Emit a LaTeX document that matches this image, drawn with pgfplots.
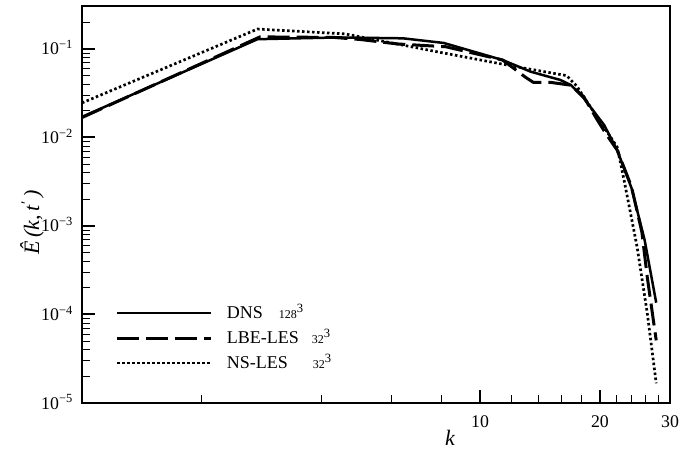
\documentclass[border=0pt]{standalone}
\usepackage{fontspec}
\setmainfont{Liberation Serif}
\usepackage{pgfplots}
\pgfplotsset{compat=1.18}
\begin{document}
\begin{tikzpicture}
\useasboundingbox (-82pt,-51pt) rectangle (602pt,403pt);
\begin{axis}[
 at={(0pt,0pt)}, anchor=south west,
 scale only axis, width=588pt, height=397pt,
 xmode=log, ymode=log,
 xmin=1, xmax=30, ymin=1e-5, ymax=0.306,
 xtick={10,20,30}, xticklabels={10,20,30},
 minor xtick={2,4,6,8,12,14,16,18,22,24,26,28},
 ytick={1e-5,1e-4,1e-3,1e-2,1e-1},
 yticklabels={10\textsuperscript{−5},10\textsuperscript{−4},10\textsuperscript{−3},10\textsuperscript{−2},10\textsuperscript{−1}},
 minor ytick={2e-5,3e-5,4e-5,5e-5,6e-5,7e-5,8e-5,9e-5,
   2e-4,3e-4,4e-4,5e-4,6e-4,7e-4,8e-4,9e-4,
   2e-3,3e-3,4e-3,5e-3,6e-3,7e-3,8e-3,9e-3,
   2e-2,3e-2,4e-2,5e-2,6e-2,7e-2,8e-2,9e-2,2e-1},
 xtick pos=bottom, ytick pos=left,
 tick align=inside,
 major tick length=13.5pt, minor tick length=8pt,
 every major tick/.append style={line width=2pt, black},
 every minor tick/.append style={line width=1pt, black},
 axis line style={line width=2.8pt, line cap=rect},
 tick label style={font=\fontsize{17.8}{20}\selectfont},
 xticklabel style={anchor=north, inner sep=0pt, yshift=-12pt},
 yticklabel style={anchor=base east, inner sep=0pt, xshift=-9pt, yshift=-6pt},
 every axis x label/.style={at={(axis description cs:0.626,0)}, anchor=base, yshift=-42pt, font=\fontsize{22}{26}\selectfont},
 every axis y label/.style={at={(axis description cs:-0.073,0.455)}, rotate=90, anchor=base, font=\fontsize{22}{26}\selectfont},
 xlabel={\textit{k}},
 ylabel={\textit{Ê\,(k,\,t\textsuperscript{′}\,)}},
 legend cell align=left,
 legend image code/.code={\draw[#1] (0pt,0pt) -- (94pt,0pt); \path (108pt,0pt);},
 legend style={draw=none, fill=none, inner sep=0pt, outer sep=0pt,
   at={(axis description cs:0.0578,0.1637)}, anchor=west,
   font=\fontsize{18}{21}\selectfont, row sep=8pt,
   nodes={inner sep=0pt, text height=14pt, text depth=3pt}},
]
\addplot[black, line width=2.5pt, line join=round] coordinates {
 (1,0.0171) (2.76,0.129) (4.4,0.135) (6.4,0.132) (8.1,0.117) (11.4,0.075)
 (13.4,0.0554) (15.9,0.0447) (16.9,0.0392) (18.2,0.028) (20.5,0.0138)
 (22.1,0.0072) (24.0,0.0027) (25.9,6.95e-4) (27.7,1.36e-4)
};
\addlegendentry{\makebox[52pt][l]{DNS}{\fontsize{12}{14}\selectfont 128}\textsuperscript{3}}
\addplot[black, line width=3pt, dash pattern=on 22pt off 7pt, line join=round] coordinates {
 (1,0.0168) (2.8,0.137) (4.3,0.135) (5.0,0.128) (6.2,0.114) (8.2,0.106)
 (11.4,0.075) (13.0,0.048) (13.6,0.042) (15.0,0.042) (16.9,0.039)
 (18.2,0.029) (19.7,0.0158) (20.8,0.0107) (22.1,0.0072) (24.0,0.0028)
 (25.5,8.5e-4) (26.3,2.65e-4) (27.7,5.1e-5)
};
\addlegendentry{\makebox[85pt][l]{LBE-LES}{\fontsize{12}{14}\selectfont 32}\textsuperscript{3}}
\addplot[black, line width=2.7pt, dash pattern=on 2.5pt off 2.5pt] coordinates {
 (1,0.0246) (2.76,0.168) (4.58,0.148) (8.1,0.090) (12.1,0.064) (16.5,0.050)
 (17.5,0.038) (18.2,0.029) (22.1,0.0078) (23.0,0.0033) (24.8,5.8e-4)
 (26.3,1.04e-4) (27.7,1.67e-5)
};
\addlegendentry{\makebox[86pt][l]{NS-LES}{\fontsize{12}{14}\selectfont 32}\textsuperscript{3}}
\end{axis}
\end{tikzpicture}
\end{document}
